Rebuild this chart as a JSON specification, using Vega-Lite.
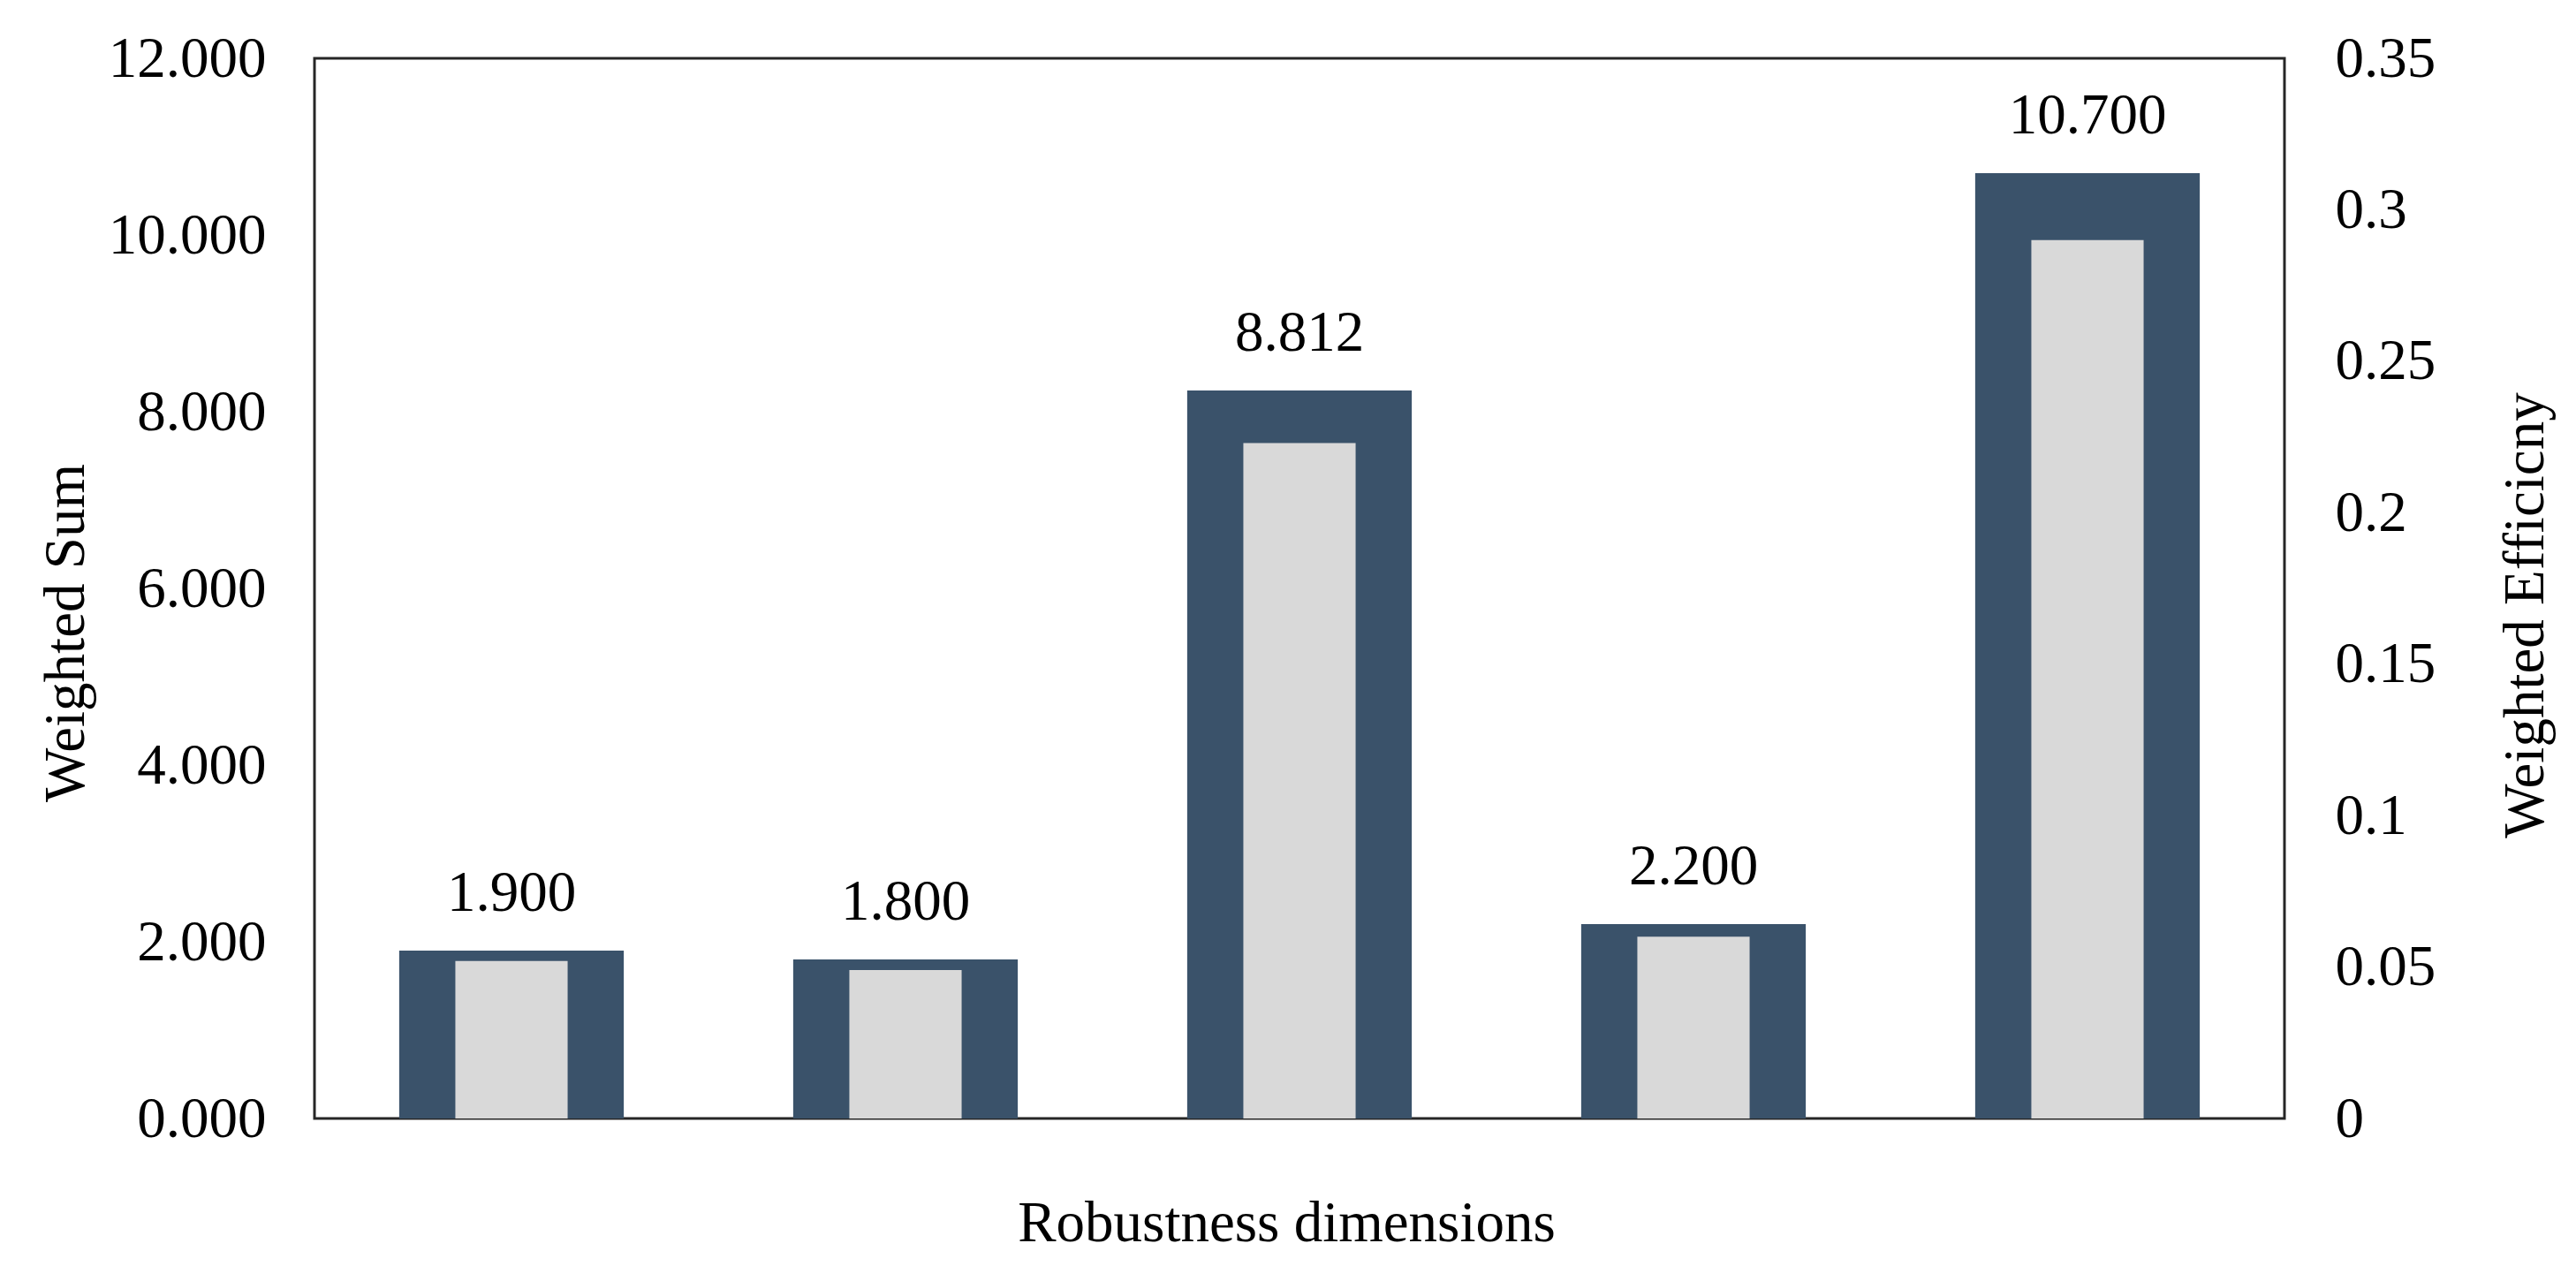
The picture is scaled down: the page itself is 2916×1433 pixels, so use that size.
{
  "$schema": "https://vega.github.io/schema/vega-lite/v6.json",
  "width": 2230,
  "height": 1200,
  "autosize": {"type": "none"},
  "padding": {"left": 356, "top": 66, "right": 330, "bottom": 167},
  "background": "white",
  "config": {
    "view": {"stroke": "#262626", "strokeWidth": 3},
    "font": "Liberation Serif",
    "axis": {
      "labelFont": "Liberation Serif",
      "titleFont": "Liberation Serif",
      "labelFontSize": 65,
      "titleFontSize": 65,
      "titleFontWeight": "normal",
      "labelColor": "#000000",
      "titleColor": "#000000",
      "grid": false,
      "domain": false,
      "ticks": false,
      "tickSize": 0,
      "labelFlush": false,
      "labelOverlap": false
    }
  },
  "data": {
    "values": [
      {"dim": "D1", "sum": 1.9, "label": "1.900", "eff": 0.052},
      {"dim": "D2", "sum": 1.8, "label": "1.800", "eff": 0.049},
      {"dim": "D3", "sum": 8.24, "label": "8.812", "eff": 0.223},
      {"dim": "D4", "sum": 2.2, "label": "2.200", "eff": 0.060},
      {"dim": "D5", "sum": 10.7, "label": "10.700", "eff": 0.290}
    ]
  },
  "encoding": {
    "x": {
      "field": "dim",
      "type": "nominal",
      "sort": null,
      "scale": {"paddingInner": 0, "paddingOuter": 0},
      "axis": {
        "title": "Robustness dimensions",
        "labels": false,
        "titleX": 1100,
        "titleY": 118,
        "titleBaseline": "middle",
        "titleAlign": "center"
      }
    }
  },
  "layer": [
    {
      "encoding": {
        "y": {
          "field": "sum",
          "type": "quantitative",
          "scale": {"domain": [0, 12], "nice": false},
          "axis": {
            "orient": "left",
            "title": "Weighted Sum",
            "values": [0, 2, 4, 6, 8, 10, 12],
            "format": ".3f",
            "labelPadding": 55,
            "titleAngle": 270,
            "titleX": -282,
            "titleY": 650,
            "titleBaseline": "middle",
            "titleAlign": "center"
          }
        }
      },
      "layer": [
        {"mark": {"type": "bar", "color": "#3A526A", "width": {"band": 0.57}}},
        {
          "mark": {"type": "text", "dy": -45, "baseline": "alphabetic", "align": "center", "fontSize": 65, "font": "Liberation Serif", "color": "#000000"},
          "encoding": {"text": {"field": "label"}}
        }
      ]
    },
    {
      "mark": {"type": "bar", "color": "#D9D9D9", "width": {"band": 0.285}},
      "encoding": {
        "y": {
          "field": "eff",
          "type": "quantitative",
          "scale": {"domain": [0, 0.35], "nice": false},
          "axis": {
            "orient": "right",
            "title": "Weighted Efficicny",
            "values": [0, 0.05, 0.1, 0.15, 0.2, 0.25, 0.3, 0.35],
            "format": "~g",
            "labelPadding": 57,
            "titleAngle": 270,
            "titleX": 272,
            "titleY": 630,
            "titleBaseline": "middle",
            "titleAlign": "center"
          }
        }
      }
    }
  ],
  "resolve": {"scale": {"y": "independent"}}
}
